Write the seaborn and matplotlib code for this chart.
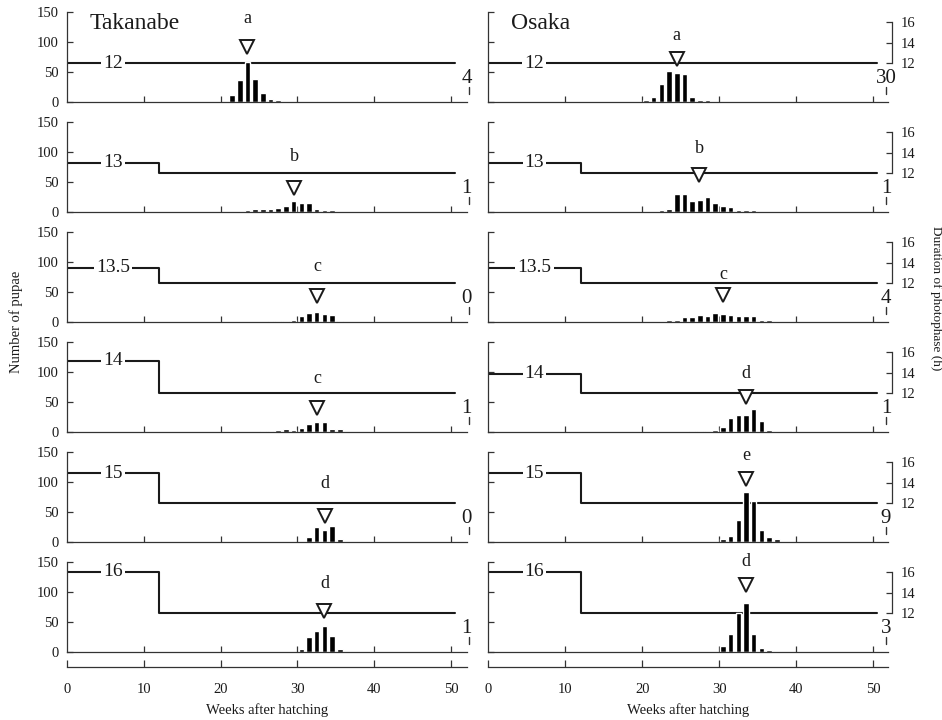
import matplotlib
matplotlib.use('Agg')
import matplotlib.pyplot as plt
import seaborn as sns

sns.set_style('ticks')
plt.rcParams['font.family'] = ['Liberation Serif', 'DejaVu Serif']

# photophase (h) before week 12, one row per treatment
photo_labels = ['12', '13', '13.5', '14', '15', '16']
# height of the step line as it is drawn in the figure (h)
tak_level = [12, 13, 13.5, 15.15, 14.9, 16]
osa_level = [12, 13, 13.5, 13.9, 14.9, 16]
switch_week = 12
end_week = 50.5

# Takanabe: weekly number of pupae
tak_weeks = [
    [21.5, 22.5, 23.5, 24.5, 25.5, 26.5, 27.5],
    [22.5, 23.5, 24.5, 25.5, 26.5, 27.5, 28.5, 29.5, 30.5, 31.5, 32.5, 33.5, 34.5, 36.5],
    [23.5, 24.5, 25.5, 26.5, 27.5, 28.5, 29.5, 30.5, 31.5, 32.5, 33.5, 34.5, 35.5],
    [23.5, 25.5, 26.5, 27.5, 28.5, 29.5, 30.5, 31.5, 32.5, 33.5, 34.5, 35.5, 40.5],
    [31.5, 32.5, 33.5, 34.5, 35.5, 37.5],
    [29.5, 30.5, 31.5, 32.5, 33.5, 34.5, 35.5, 36.5, 38.5],
]
tak_counts = [
    [12, 37, 67, 39, 15, 5, 3],
    [1, 4, 6, 6, 6, 7, 10, 19, 15, 15, 5, 4, 3, 1],
    [1, 1, 1, 2, 2, 2, 4, 10, 16, 17, 13, 12, 2],
    [1, 2, 2, 3, 5, 4, 7, 13, 17, 17, 5, 5, 1],
    [9, 26, 21, 27, 5, 1],
    [1, 5, 25, 35, 43, 27, 5, 1, 1],
]
tak_mean = [23.5, 29.6, 32.6, 32.6, 33.6, 33.5]
tak_letter = ['a', 'b', 'c', 'c', 'd', 'd']
tak_rest = [4, 1, 0, 1, 0, 1]

# Osaka: weekly number of pupae
osa_weeks = [
    [19.5, 20.5, 21.5, 22.5, 23.5, 24.5, 25.5, 26.5, 27.5, 28.5, 30.5],
    [22.5, 23.5, 24.5, 25.5, 26.5, 27.5, 28.5, 29.5, 30.5, 31.5, 32.5, 33.5, 34.5, 35.5, 38.5],
    [23.5, 24.5, 25.5, 26.5, 27.5, 28.5, 29.5, 30.5, 31.5, 32.5, 33.5, 34.5, 35.5, 36.5, 44.5],
    [26.5, 27.5, 28.5, 29.5, 30.5, 31.5, 32.5, 33.5, 34.5, 35.5, 36.5, 37.5, 38.5, 39.5],
    [30.5, 31.5, 32.5, 33.5, 34.5, 35.5, 36.5, 37.5, 39.5],
    [24.5, 27.5, 30.5, 31.5, 32.5, 33.5, 34.5, 35.5, 36.5, 41.5, 49.5],
]
osa_counts = [
    [1, 3, 9, 31, 52, 48, 47, 9, 3, 3, 1],
    [4, 5, 30, 30, 18, 21, 25, 16, 10, 8, 3, 3, 4, 1, 1],
    [3, 3, 9, 8, 12, 10, 15, 13, 12, 10, 11, 11, 3, 3, 1],
    [2, 2, 2, 3, 9, 24, 28, 29, 39, 19, 3, 1, 1, 1],
    [5, 11, 37, 83, 69, 21, 9, 5, 1],
    [1, 1, 11, 31, 65, 81, 30, 7, 3, 1, 1],
]
osa_mean = [24.5, 27.4, 30.5, 33.5, 33.5, 33.5]
osa_letter = ['a', 'b', 'c', 'd', 'e', 'd']
osa_rest = [30, 1, 4, 1, 9, 3]

# where the mean marker and the letter sit in each panel (pupae scale)
tak_tri_y = [92, 41, 43, 41, 43, 69]
tak_let_y = [138, 92, 92, 89, 98, 114]
osa_tri_y = [71, 62, 45, 59, 104, 111]
osa_let_y = [111, 106, 79, 98, 144, 150]

ink = '#1a1a1a'
W, H = 942, 720
col_x = [66.7, 488.3]
ax_w = 400
row_base = [102.3, 212.3, 322.3, 432.3, 542.3, 652.3]
ax_h = 90.6

fig = plt.figure(figsize=(9.42, 7.2), dpi=100)

sites = [
    ('Takanabe', tak_level, tak_weeks, tak_counts, tak_mean, tak_letter, tak_rest, tak_tri_y, tak_let_y),
    ('Osaka', osa_level, osa_weeks, osa_counts, osa_mean, osa_letter, osa_rest, osa_tri_y, osa_let_y),
]

for c, (name, level, weeks, counts, mean, letter, rest, tri_y, let_y) in enumerate(sites):
    for r in range(6):
        ax = fig.add_axes([col_x[c] / W, 1 - row_base[r] / H, ax_w / W, ax_h / H])
        ax2 = ax.twinx()
        ax.set_zorder(ax2.get_zorder() + 1)
        ax.patch.set_visible(False)

        sns.barplot(x=weeks[r], y=counts[r], native_scale=True, width=0.72,
                    color='black', saturation=1, errorbar=None, ax=ax)

        ax.set_xlim(0, 52)
        ax.set_ylim(0, 150)
        ax.set_xlabel('')
        ax.set_ylabel('')
        for s in ['top', 'right']:
            ax.spines[s].set_visible(False)
        for s in ['left', 'bottom']:
            ax.spines[s].set_color('#333333')
            ax.spines[s].set_linewidth(0.9)
        ax.set_xticks([10, 20, 30, 40, 50])
        ax.tick_params(axis='x', direction='in', length=4.5, width=0.9,
                       color='#333333', labelbottom=False)
        ax.set_yticks([0, 50, 100, 150])
        ax.tick_params(axis='y', direction='in', length=4, width=0.9,
                       color='#333333', labelsize=10.5, pad=6,
                       labelleft=(c == 0), labelcolor=ink)

        # photophase schedule
        ax2.set_ylim(8.244, 16.965)
        ax2.plot([0, switch_week, switch_week, end_week],
                 [level[r], level[r], 12, 12], color=ink, lw=1.5)
        ax2.text(6, level[r], photo_labels[r], ha='center', va='center',
                 fontsize=14, color=ink,
                 bbox=dict(fc='white', ec='none', pad=1.5))
        for s in ['top', 'left', 'bottom']:
            ax2.spines[s].set_visible(False)
        if c == 1:
            ax2.spines['right'].set_bounds(12, 16)
            ax2.spines['right'].set_position(('outward', 3))
            ax2.spines['right'].set_color('#333333')
            ax2.spines['right'].set_linewidth(0.9)
            ax2.set_yticks([12, 14, 16])
            ax2.tick_params(axis='y', direction='in', length=4, width=0.9,
                            color='#333333', labelsize=10.5, pad=6,
                            labelcolor=ink)
        else:
            ax2.spines['right'].set_visible(False)
            ax2.set_yticks([])

        # mean week of pupation and group letter
        ax.plot([mean[r]], [tri_y[r]], marker='v', ms=10, mfc='white',
                mec=ink, mew=1.4, clip_on=False, zorder=6)
        ax.text(mean[r], let_y[r], letter[r], ha='center', va='center',
                fontsize=13, color=ink, clip_on=False, zorder=7)

        # larvae that did not pupate
        tx, mx = (52.0, 52.3) if c == 0 else (51.7, 51.75)
        ax.text(tx, 40, str(rest[r]), ha='center', va='center',
                fontsize=15, color=ink, clip_on=False)
        ax.plot([mx, mx], [14, 25], color='#333333', lw=1, clip_on=False)

        if r == 0:
            ax.text(3, 131, name, ha='left', va='center', fontsize=17, color=ink)

    # shared week axis under the column
    axb = fig.add_axes([col_x[c] / W, 1 - 667.3 / H, ax_w / W, 0.0001])
    axb.patch.set_visible(False)
    for s in ['top', 'left', 'right']:
        axb.spines[s].set_visible(False)
    axb.spines['bottom'].set_color('#333333')
    axb.spines['bottom'].set_linewidth(0.9)
    axb.set_xlim(0, 52)
    axb.set_xticks([0, 10, 20, 30, 40, 50])
    axb.tick_params(axis='x', direction='in', length=5, width=0.9,
                    color='#333333', labelsize=10.5, pad=11, labelcolor=ink)
    axb.set_yticks([])
    fig.text((col_x[c] + 200) / W, 1 - 714 / H, 'Weeks after hatching',
             ha='center', va='baseline', fontsize=10.5, color=ink)

fig.text(16 / W, 1 - 322 / H, 'Number of pupae', rotation=90,
         ha='center', va='center', fontsize=10.5, color=ink)
fig.text(936 / W, 1 - 298 / H, 'Duration of photophase (h)', rotation=270,
         ha='center', va='center', fontsize=9.5, color=ink)

fig.savefig('out.png', dpi=100)
